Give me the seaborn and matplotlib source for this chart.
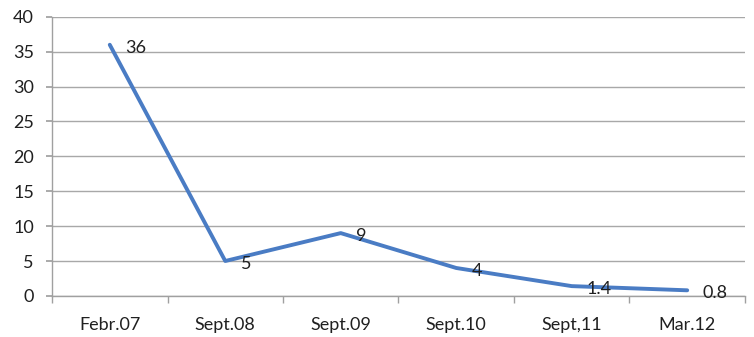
import matplotlib
matplotlib.use("Agg")
import matplotlib.pyplot as plt
import seaborn as sns
import pandas as pd
import numpy as np

categories = ["Febr.07", "Sept.08", "Sept.09", "Sept.10", "Sept,11", "Mar.12"]
values = [36, 5, 9, 4, 1.4, 0.8]
value_labels = ["36", "5", "9", "4", "1.4", "0.8"]
y_ticks = [0, 5, 10, 15, 20, 25, 30, 35, 40]

sns.set_theme(style="white")
plt.rcParams["font.family"] = ["Lato", "DejaVu Sans"]

df = pd.DataFrame({"pos": np.arange(len(categories)), "value": values})

fig = plt.figure(figsize=(7.54, 3.37), dpi=100)
ax = fig.add_axes([0.069, 0.122, 0.919, 0.828])

sns.lineplot(data=df, x="pos", y="value", ax=ax, color="#4a7cc4",
             linewidth=2.8, sort=False)

# value labels to the right of each point
for x, y, lab in zip(df["pos"], df["value"], value_labels):
    ax.annotate(lab, (x, y), xytext=(11, -2), textcoords="offset points",
                ha="left", va="center", fontsize=13, color="#202020")

ax.set_xlim(-0.5, len(categories) - 0.5)
ax.set_ylim(0, 40)
ax.set_yticks(y_ticks)
ax.set_xticks(df["pos"])
ax.set_xticklabels(categories)
ax.set_xticks(np.arange(-0.5, len(categories), 1.0), minor=True)
ax.set_xlabel("")
ax.set_ylabel("")

ax.yaxis.grid(True, color="#a8a8a8", linewidth=1)
ax.xaxis.grid(False)
for s in ["top", "right"]:
    ax.spines[s].set_visible(False)
for s in ["left", "bottom"]:
    ax.spines[s].set_color("#a0a0a0")
    ax.spines[s].set_linewidth(1)

ax.tick_params(axis="x", which="major", length=0, pad=15, labelsize=13, labelcolor="#202020")
ax.tick_params(axis="x", which="minor", length=5, color="#a0a0a0", direction="out", bottom=True)
ax.tick_params(axis="y", length=4, color="#a0a0a0", direction="out", left=True, pad=9,
               labelsize=13, labelcolor="#202020")

fig.savefig("out.png", dpi=100, facecolor="white")
